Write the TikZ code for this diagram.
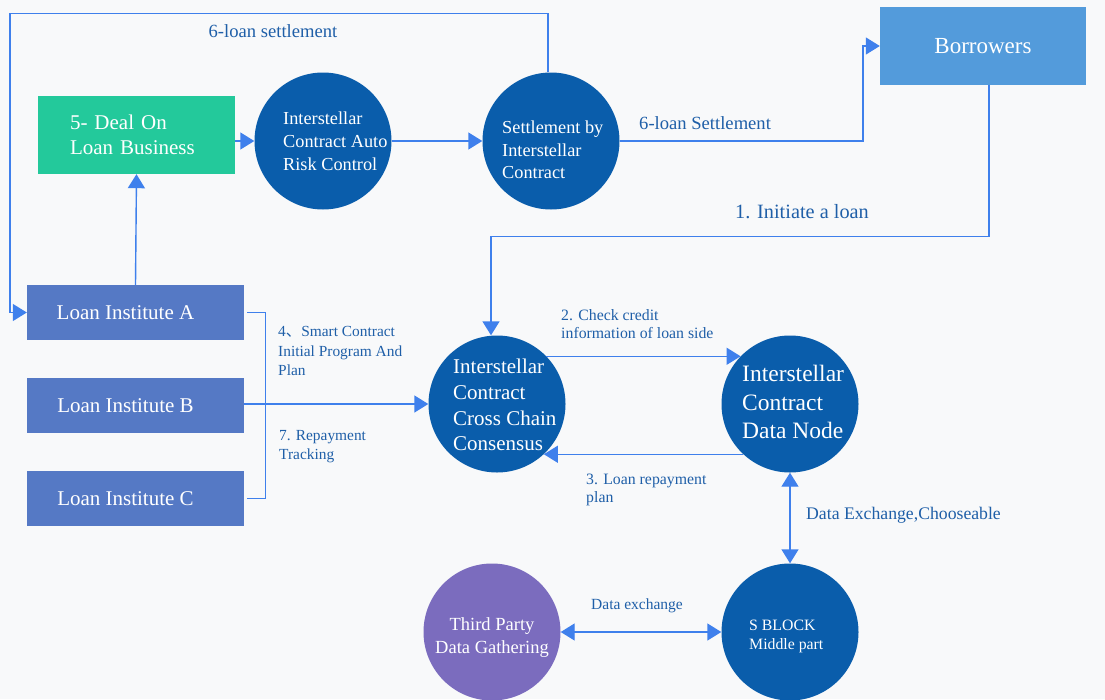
\documentclass[tikz,border=0pt]{standalone}
\usepackage{fontspec}
\setmainfont{Liberation Serif}
\newfontfamily\cjk{Noto Sans CJK SC}
\usetikzlibrary{arrows.meta,calc}
\definecolor{bgc}{HTML}{F8F9FA}
\definecolor{greenc}{HTML}{23C99B}
\definecolor{borc}{HTML}{539BDB}
\definecolor{loanc}{HTML}{5579C5}
\definecolor{circc}{HTML}{0A5DAB}
\definecolor{purc}{HTML}{7B6CBE}
\definecolor{linec}{HTML}{3F80EC}
\definecolor{labc}{HTML}{1F5FA8}
\begin{document}
\begin{tikzpicture}[x=1pt,y=-1pt,
  conn/.style={draw=linec, line width=1.4pt},
  arr/.style={conn, -{Triangle[length=14pt,width=17pt]}},
  darr/.style={conn, {Triangle[length=14pt,width=17pt]}-{Triangle[length=14pt,width=17pt]}},
  gbox/.style={rectangle, fill=greenc, minimum height=78pt, text width=133pt, inner xsep=32pt, align=left, text=white, font=\fontsize{21}{25}\selectfont},
  bbox/.style={rectangle, fill=borc, minimum width=206pt, minimum height=78pt, text=white, font=\fontsize{23}{26}\selectfont},
  lbox/.style={rectangle, fill=loanc, minimum width=217pt, minimum height=55pt, text=white, font=\fontsize{21}{24}\selectfont},
  circ/.style={circle, fill=circc, minimum size=137pt, inner sep=0pt},
  ctext/.style={text=white, align=left, inner sep=0pt, anchor=west},
  lab/.style={text=labc, align=left, inner sep=0pt, anchor=west}
]
\fill[bgc] (0,0) rectangle (1105,699);
\useasboundingbox (0,0) rectangle (1105,699);

% boxes
\node[gbox] (deal) at (136.5,135) {5- Deal On\\Loan Business};
\node[bbox] (bor) at (983,46) {Borrowers};
\node[lbox] (la) at (135.5,312.5) {\hspace*{-20pt}Loan Institute A};
\node[lbox] (lb) at (135.5,405.5) {\hspace*{-20pt}Loan Institute B};
\node[lbox] (lc) at (135.5,498.5) {\hspace*{-20pt}Loan Institute C};

% circles
\node[circ] (c1) at (323,141) {};
\node[circ] (c2) at (551,141) {};
\node[circ] (c3) at (497,404) {};
\node[circ] (c4) at (790,404) {};
\node[circ] (c5) at (790,632) {};
\node[circ, fill=purc] (c6) at (492,632) {};

% circle texts
\node[ctext, font=\fontsize{18.3}{23}\selectfont] (t1) at (283,141) {Interstellar\\Contract Auto\\Risk Control};
\node[ctext, font=\fontsize{18.3}{22.5}\selectfont] (t2) at (502,150) {Settlement by\\Interstellar\\Contract};
\node[ctext, font=\fontsize{21}{25.8}\selectfont] (t3) at (453,405) {Interstellar\\Contract\\Cross Chain\\Consensus};
\node[ctext, font=\fontsize{23.5}{28.8}\selectfont] (t4) at (742,402) {Interstellar\\Contract\\Data Node};
\node[ctext, font=\fontsize{15.8}{19}\selectfont] (t5) at (749,636) {S BLOCK\\Middle part};
\node[ctext, anchor=center, align=center, font=\fontsize{18.5}{23}\selectfont] (t6) at (492,638) {Third Party\\Data Gathering};

% connectors
\draw[arr] (deal.east |- c1.west) -- (c1.west);
\draw[arr] (c1.east) -- (c2.west);
\draw[arr] (la.north) -- (deal.south);
\draw[arr] ([xshift=-3pt]c2.north) -- ++(0,-59) -| ([xshift=-17pt]la.west) -- (la.west);
\draw[arr] (c2.east) -| ([xshift=-17pt]bor.west) -- (bor.west);
\draw[arr] ([xshift=6pt]bor.south) -- ++(0,151) -| ([xshift=-6pt]c3.north);
\draw[arr] (c3.44) -- (c4.136);
\draw[arr] (c4.-133) -- (c3.-47);
\draw[darr] (c4.south) -- (c5.north);
\draw[darr] (c6.east) -- (c5.west);
\draw[conn] ([xshift=3pt]la.east) -- ++(18,0) |- ([xshift=3pt]lc.east);
\draw[arr] (c3.west -| lb.east) -- (c3.west);

% labels
\node[lab, anchor=center, font=\fontsize{18.6}{22}\selectfont] (l6a) at (273,31) {6-loan settlement};
\node[lab, font=\fontsize{18.6}{22}\selectfont] (l6b) at (639,123) {6-loan Settlement};
\node[lab, font=\fontsize{20.3}{24}\selectfont] (l1) at (735,212) {1. Initiate a loan};
\node[lab, font=\fontsize{15.8}{18.5}\selectfont] (l2) at (561,324) {2. Check credit\\information of loan side};
\node[lab, font=\fontsize{15.8}{18.5}\selectfont] (l3) at (586,490) {3. Loan repayment\\plan};
\node[lab, font=\fontsize{15.4}{19.5}\selectfont] (l4) at (278,351) {4{\cjk 、}Smart Contract\\Initial Program And\\Plan};
\node[lab, font=\fontsize{15.4}{19}\selectfont] (l7) at (279,446.5) {7. Repayment\\Tracking};
\node[lab, font=\fontsize{17.7}{21}\selectfont] (lde) at (806,515) {Data Exchange,Chooseable};
\node[lab, anchor=center, font=\fontsize{15.5}{18}\selectfont] (ldx) at (637,606) {Data exchange};
\end{tikzpicture}
\end{document}
